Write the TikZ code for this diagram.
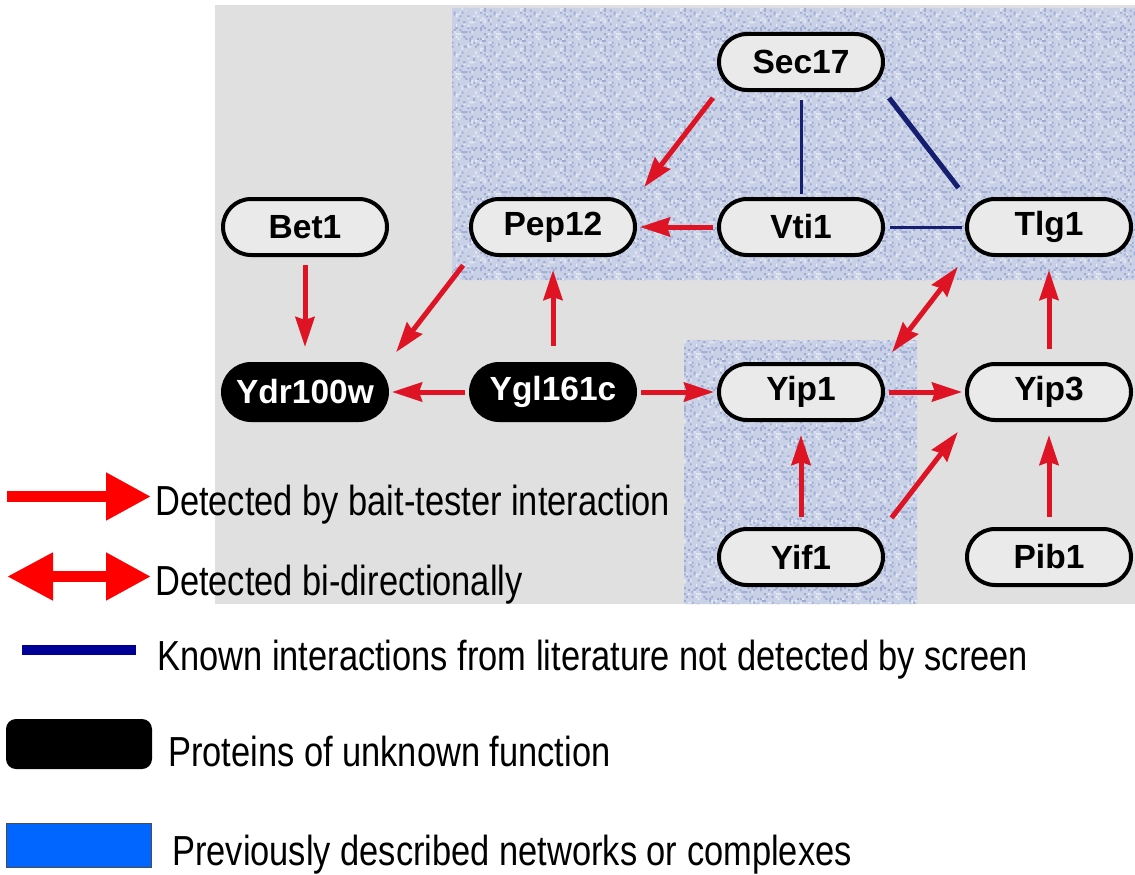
\documentclass[tikz,border=0pt]{standalone}
\usepackage{fontspec}
\setmainfont{Liberation Sans}
\newfontfamily\legendfont[FakeStretch=0.82]{Liberation Sans}
\usetikzlibrary{positioning}
\usetikzlibrary{arrows.meta}
\usetikzlibrary{patterns}

\definecolor{panel}{RGB}{224,224,224}
\definecolor{boxfill}{RGB}{234,234,234}
\definecolor{complex}{RGB}{200,209,229}
\definecolor{speck}{RGB}{158,170,212}
\definecolor{glint}{RGB}{228,232,243}
\definecolor{hitred}{RGB}{222,20,36}
\definecolor{litblue}{RGB}{22,30,112}
\definecolor{keynavy}{RGB}{0,0,150}
\definecolor{keyblue}{RGB}{0,102,255}

% grain for the shaded complexes
\pgfdeclarepatternformonly{grain}{\pgfqpoint{0pt}{0pt}}{\pgfqpoint{40pt}{40pt}}{\pgfqpoint{40pt}{40pt}}{%
  \pgfmathsetseed{7}%
  \foreach \i in {1,...,75}{%
    \pgfmathsetmacro\gx{int(20*rnd)*2}%
    \pgfmathsetmacro\gy{int(20*rnd)*2}%
    \pgfpathrectangle{\pgfpoint{\gx pt}{\gy pt}}{\pgfqpoint{2pt}{2pt}}%
    \pgfusepath{fill}}}
\pgfdeclarepatternformonly{sheen}{\pgfqpoint{0pt}{0pt}}{\pgfqpoint{40pt}{40pt}}{\pgfqpoint{40pt}{40pt}}{%
  \pgfmathsetseed{23}%
  \foreach \i in {1,...,50}{%
    \pgfmathsetmacro\gx{int(20*rnd)*2}%
    \pgfmathsetmacro\gy{int(20*rnd)*2}%
    \pgfpathrectangle{\pgfpoint{\gx pt}{\gy pt}}{\pgfqpoint{2pt}{2pt}}%
    \pgfusepath{fill}}}

\begin{document}
\begin{tikzpicture}[x=1pt,y=1pt,
  Head/.tip={Stealth[length=30pt,width=19pt,inset=3pt]},
  prot/.style={rectangle,rounded corners=28pt,draw,line width=4pt,fill=boxfill,
    minimum width=164pt,minimum height=56pt,inner sep=0pt,outer sep=0pt,
    font=\fontsize{33.5}{40}\selectfont\bfseries},
  unknown/.style={prot,fill=black,text=white},
  bait/.style={hitred,line width=5pt,-Head,shorten <=12pt,shorten >=15pt},
  flat/.style={shorten <=6pt,shorten >=5pt},
  both/.style={bait,Head-Head,shorten <=15pt},
  lit/.style={litblue,shorten <=10pt,shorten >=5pt},
  key/.style={font=\legendfont\fontsize{42}{50}\selectfont,inner sep=0pt,anchor=base west},
  keyarrow/.style={red,line width=11pt}]

\useasboundingbox (0,0) rectangle (1135,-875);

% grey panel with the two complexes
\fill [panel] (215,-5) rectangle (1135,-604);
\fill [complex] (452,-8) rectangle (1135,-280) (684,-340) rectangle (917,-604);
\fill [pattern=grain,pattern color=speck] (452,-8) rectangle (1135,-280) (684,-340) rectangle (917,-604);
\fill [pattern=sheen,pattern color=glint] (452,-8) rectangle (1135,-280) (684,-340) rectangle (917,-604);

% proteins
\node [prot] (sec17) at (801,-62) {Sec17};
\node [prot,below=109pt,at=(sec17.south)] (vti1) {Vti1};
\node [prot,left=84pt,at=(vti1.west)] (pep12) {Pep12};
\node [prot,left=84pt,at=(pep12.west)] (bet1) {Bet1};
\node [prot,right=84pt,at=(vti1.east)] (tlg1) {Tlg1};
\node [prot,below=109pt,at=(vti1.south)] (yip1) {Yip1};
\node [unknown,left=84pt,at=(yip1.west)] (ygl161c) {Ygl161c};
\node [unknown,left=84pt,at=(ygl161c.west)] (ydr100w) {Ydr100w};
\node [prot,right=84pt,at=(yip1.east)] (yip3) {Yip3};
\node [prot,below=109pt,at=(yip1.south)] (yif1) {Yif1};
\node [prot,below=109pt,at=(yip3.south)] (pib1) {Pib1};

% interactions
\draw [bait,shorten <=10pt] (sec17.south west) -- (pep12.north east);
\draw [lit,line width=3pt] (sec17) -- (vti1);
\draw [lit,line width=5pt,shorten >=14pt] (sec17.south east) -- (tlg1.north west);
\draw [bait,flat] (vti1) -- (pep12);
\draw [lit,line width=3pt,shorten <=7pt] (vti1) -- (tlg1);
\draw [bait,shorten <=10pt,shorten >=17pt] (bet1) -- (ydr100w);
\draw [bait,shorten <=13pt] (pep12.south west) -- (ydr100w.north east);
\draw [bait,shorten <=18pt,shorten >=15pt] (ygl161c) -- (pep12);
\draw [bait,flat] (ygl161c) -- (ydr100w);
\draw [bait,flat] (ygl161c) -- (yip1);
\draw [both] (yip1.north east) -- (tlg1.south west);
\draw [bait,flat] (yip1) -- (yip3);
\draw [bait,shorten <=15pt] (yip3) -- (tlg1);
\draw [bait] (yif1) -- (yip1);
\draw [bait,shorten <=14pt] (yif1.north east) -- (yip3.south west);
\draw [bait] (pib1) -- (yip3);

% legend
\coordinate (bait0) at (7,-496.5);
\coordinate (bait1) at (151,-496.5);
\coordinate (both0) at (7,-576.5);
\coordinate (both1) at (151,-576.5);
\coordinate (lit0) at (22,-650);
\coordinate (lit1) at (136,-650);
\draw [keyarrow,-{Triangle[length=45pt,width=45pt]}] (bait0) -- (bait1);
\draw [keyarrow,{Triangle[length=46pt,width=45pt]}-{Triangle[length=45pt,width=45pt]}] (both0) -- (both1);
\draw [keynavy,line width=10pt] (lit0) -- (lit1);
\node [fill=black,rounded corners=10pt,minimum width=146pt,minimum height=50pt] (keyunknown) at (79,-744) {};
\node [fill=keyblue,draw=gray!60!black,line width=1.5pt,minimum width=145pt,minimum height=44pt] (keycomplex) at (79,-845.5) {};

\node [key] (lbait) at (155,-515) {Detected by bait-tester interaction};
\node [key] (lboth) at (155,-595) {Detected bi-directionally};
\node [key] (llit) at (157,-670) {Known interactions from literature not detected by screen};
\node [key] (lunknown) at (168,-766) {Proteins of unknown function};
\node [key] (lcomplex) at (172,-865) {Previously described networks or complexes};
\end{tikzpicture}
\end{document}
